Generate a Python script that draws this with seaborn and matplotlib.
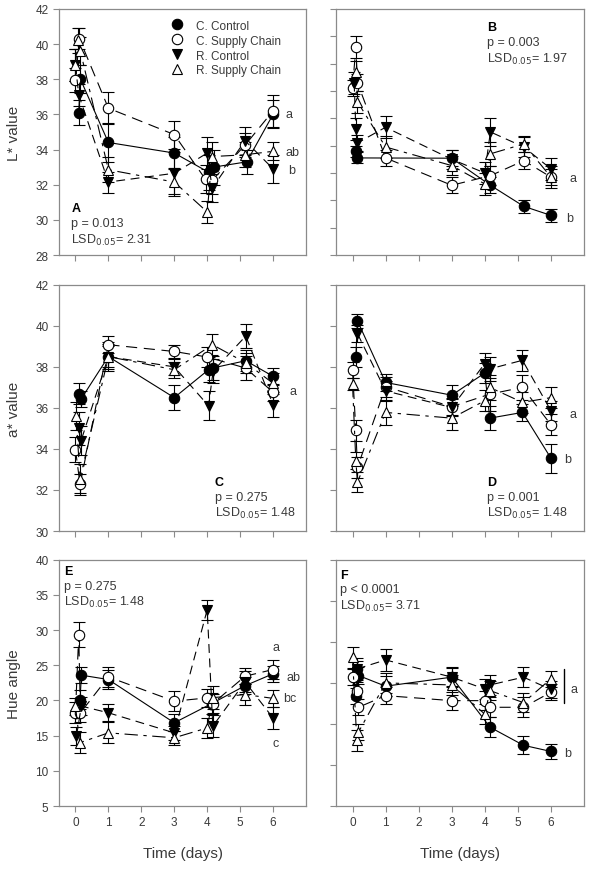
import matplotlib
matplotlib.use('Agg')
from matplotlib import pyplot as plt
from matplotlib.lines import Line2D
import pandas as pd
import seaborn as sns

series_names = ['C. Control', 'C. Supply Chain', 'R. Control', 'R. Supply Chain']
day_ticks = [0, 1, 2, 3, 4, 5, 6]

# panel A - L* (first muscle)
a_cc_t = [0.1, 0.15, 1, 3, 4.05, 4.2, 5.2, 6]
a_cc_y = [36.1, 38.0, 34.4, 33.8, 32.7, 33.0, 33.3, 36.0]
a_cc_e = [0.7, 0.8, 1.1, 0.9, 1.0, 1.0, 0.7, 0.8]
a_csc_t = [0, 0.12, 1, 3, 3.95, 4.15, 5.15, 6]
a_csc_y = [37.95, 40.3, 36.35, 34.85, 32.3, 32.25, 34.25, 36.2]
a_csc_e = [0.7, 0.6, 0.9, 0.8, 0.8, 0.8, 0.7, 0.9]
a_rc_t = [0, 0.1, 1, 3, 4.0, 4.15, 5.15, 6]
a_rc_y = [38.8, 37.1, 32.15, 32.65, 33.8, 31.8, 34.5, 32.9]
a_rc_e = [0.9, 0.6, 0.6, 1.2, 0.9, 0.8, 0.8, 0.8]
a_rsc_t = [0, 0.08, 0.15, 1, 3, 4.0, 4.15, 5.15, 6]
a_rsc_y = [38.8, 40.2, 39.6, 32.85, 32.15, 30.45, 33.6, 33.7, 33.9]
a_rsc_e = [0.9, 0.7, 0.8, 0.7, 0.8, 0.6, 0.8, 0.7, 0.5]

# panel B - L* (second muscle)
b_cc_t = [0.1, 0.15, 3, 4.17, 5.18, 6]
b_cc_y = [33.8, 33.55, 33.54, 32.55, 31.78, 31.45]
b_cc_e = [0.2, 0.2, 0.3, 0.3, 0.25, 0.25]
b_csc_t = [0, 0.1, 0.15, 1, 3, 4.17, 5.18, 6]
b_csc_y = [36.1, 37.6, 36.3, 33.55, 32.55, 32.9, 33.45, 32.85]
b_csc_e = [0.3, 0.4, 0.3, 0.3, 0.3, 0.35, 0.3, 0.3]
b_rc_t = [0.05, 0.1, 0.15, 1, 3, 4.0, 4.17, 5.18, 6]
b_rc_y = [36.3, 34.6, 34.1, 34.67, 33.5, 33.0, 34.5, 33.95, 33.15]
b_rc_e = [0.4, 0.4, 0.3, 0.4, 0.35, 0.4, 0.5, 0.35, 0.4]
b_rsc_t = [0.1, 0.15, 1, 3, 4.0, 4.17, 5.18, 6]
b_rsc_y = [36.7, 35.6, 33.95, 33.27, 32.6, 33.7, 34.06, 32.85]
b_rsc_e = [0.4, 0.4, 0.4, 0.35, 0.4, 0.45, 0.3, 0.4]

# panel C - a*
c_cc_t = [0.12, 0.17, 1, 3, 4.04, 4.18, 5.17, 6]
c_cc_y = [36.7, 36.43, 38.5, 36.5, 37.86, 37.95, 38.3, 37.54]
c_cc_e = [0.5, 0.4, 0.5, 0.6, 0.6, 0.6, 0.5, 0.4]
c_csc_t = [0, 0.14, 1, 3, 4.0, 5.17, 6]
c_csc_y = [33.97, 32.27, 39.08, 38.75, 38.48, 37.94, 36.76]
c_csc_e = [0.6, 0.5, 0.4, 0.3, 0.5, 0.6, 0.4]
c_rc_t = [0.1, 0.17, 1, 3, 4.04, 4.18, 5.17, 6]
c_rc_y = [35.0, 34.4, 38.5, 38.0, 36.1, 37.8, 39.5, 36.16]
c_rc_e = [0.8, 0.7, 0.6, 0.4, 0.7, 0.6, 0.6, 0.6]
c_rsc_t = [0.02, 0.14, 1, 3, 4.16, 5.17, 6]
c_rsc_y = [35.6, 32.55, 38.5, 37.86, 39.08, 38.2, 37.2]
c_rsc_e = [0.7, 0.7, 0.7, 0.4, 0.5, 0.5, 0.5]

# panel D - a*
d_cc_t = [0.1, 0.15, 1, 3, 4.0, 4.15, 5.14, 6]
d_cc_y = [38.49, 40.24, 37.24, 36.62, 37.7, 35.5, 35.78, 33.55]
d_cc_e = [0.5, 0.35, 0.4, 0.5, 0.5, 0.6, 0.4, 0.7]
d_csc_t = [0, 0.1, 0.15, 1, 3, 4.15, 5.14, 6]
d_csc_y = [37.84, 34.9, 33.1, 37.03, 36.06, 36.67, 37.0, 35.18]
d_csc_e = [0.4, 0.5, 0.5, 0.5, 0.4, 0.8, 0.6, 0.5]
d_rc_t = [0.15, 1, 3, 4.0, 4.15, 5.14, 6]
d_rc_y = [39.62, 36.83, 36.02, 38.16, 37.9, 38.32, 35.86]
d_rc_e = [0.4, 0.5, 0.4, 0.5, 0.6, 0.5, 0.5]
d_rsc_t = [0, 0.1, 0.15, 1, 3, 4.0, 4.15, 5.14, 6]
d_rsc_y = [37.16, 33.43, 32.38, 35.78, 35.5, 36.35, 37.0, 36.27, 36.5]
d_rsc_e = [0.3, 0.4, 0.5, 0.6, 0.6, 0.5, 0.6, 0.5, 0.5]

# panel E - hue angle
e_cc_t = [0.14, 0.18, 1, 3, 4.14, 5.15, 6]
e_cc_y = [20.14, 23.6, 22.98, 16.83, 19.57, 22.1, 23.8]
e_cc_e = [1.3, 1.1, 1.3, 1.2, 1.5, 1.2, 1.1]
e_csc_t = [0, 0.1, 0.15, 1, 3, 4.0, 4.17, 5.15, 6]
e_csc_y = [18.25, 29.36, 18.25, 23.35, 19.9, 20.37, 19.57, 23.45, 24.4]
e_csc_e = [1.5, 1.8, 1.3, 1.4, 1.4, 1.3, 1.4, 1.1, 1.3]
e_rc_t = [0.03, 0.18, 1, 3, 4.0, 4.17, 5.15, 6]
e_rc_y = [14.93, 19.2, 18.25, 15.4, 32.9, 16.35, 22.65, 17.5]
e_rc_e = [1.3, 1.3, 1.2, 1.0, 1.4, 1.6, 1.5, 1.6]
e_rsc_t = [0, 0.13, 1, 3, 4.0, 4.17, 5.15, 6]
e_rsc_y = [19.2, 14.0, 15.4, 14.7, 16.1, 20.4, 20.85, 20.3]
e_rsc_e = [1.2, 1.5, 1.5, 1.0, 1.4, 1.6, 1.5, 1.2]

# panel F - hue angle
f_cc_t = [0.1, 0.13, 0.18, 1, 3, 4.16, 5.17, 6]
f_cc_y = [18.37, 21.7, 20.9, 19.6, 20.7, 14.6, 12.4, 11.65]
f_cc_e = [1.0, 1.0, 1.0, 1.2, 1.2, 1.2, 1.1, 0.9]
f_csc_t = [0, 0.13, 0.18, 1, 3, 4.0, 4.16, 5.17, 6]
f_csc_y = [20.7, 19.06, 17.03, 18.45, 17.84, 17.84, 17.03, 17.03, 18.86]
f_csc_e = [1.0, 1.0, 1.0, 1.0, 1.1, 1.2, 1.2, 1.2, 1.0]
f_rc_t = [0.13, 1, 3, 4.0, 4.16, 5.17, 6]
f_rc_y = [21.7, 22.8, 20.7, 19.26, 19.75, 20.7, 19.2]
f_rc_e = [1.3, 1.3, 1.1, 1.2, 1.2, 1.2, 1.0]
f_rsc_t = [0, 0.13, 0.18, 1, 3, 4.0, 4.16, 5.17, 6]
f_rsc_y = [23.1, 13.0, 14.0, 20.0, 19.75, 16.2, 19.06, 17.6, 20.5]
f_rsc_e = [1.3, 1.3, 1.0, 1.2, 1.2, 1.2, 1.2, 1.2, 1.0]

# panel texts
panel_letters = ['A', 'B', 'C', 'D', 'E', 'F']
p_texts = ['p = 0.013', 'p = 0.003', 'p = 0.275', 'p = 0.001', 'p = 0.275', 'p < 0.0001']
lsd_values = ['2.31', '1.97', '1.48', '1.48', '1.48', '3.71']

sns.set_style('ticks')
plt.rcParams['font.family'] = ['Liberation Sans', 'DejaVu Sans']
txt_col = '#3a3a3a'
frame_col = '#8a8a8a'

# marker / line style per series
marker_of = {'C. Control': 'o', 'C. Supply Chain': 'o', 'R. Control': 'v', 'R. Supply Chain': '^'}
face_of = {'C. Control': 'black', 'C. Supply Chain': 'white', 'R. Control': 'black', 'R. Supply Chain': 'white'}
ls_of = {'C. Control': '-', 'C. Supply Chain': (0, (10, 6)), 'R. Control': (0, (8, 5)),
         'R. Supply Chain': (0, (12, 5, 3, 5))}


def make_df(prefix):
    rows = []
    g = globals()
    for name, key in zip(series_names, ['cc', 'csc', 'rc', 'rsc']):
        for t, y, e in zip(g[prefix + '_' + key + '_t'], g[prefix + '_' + key + '_y'],
                           g[prefix + '_' + key + '_e']):
            rows.append({'Time': t, 'Value': y, 'SE': e, 'Series': name})
    return pd.DataFrame(rows)


fig = plt.figure(figsize=(5.91, 8.70), dpi=100)
col_x = [0.0998, 0.5685]
col_w = [0.418, 0.4196]
row_y = [0.7057, 0.3885, 0.0724]
row_h = 0.283

# y-axis setup per panel
ylims = [(28, 42), (30, 39), (30, 42), (30, 42), (5, 40), (5, 35)]
ysteps = [2, 1, 2, 2, 5, 5]
ylabels = ['L* value', None, 'a* value', None, 'Hue angle', None]
text_pos = [(0.05, 0.19, 'left'), (0.61, 0.925, 'left'), (0.63, 0.20, 'left'),
            (0.61, 0.20, 'left'), (0.02, 0.955, 'left'), (0.015, 0.94, 'left')]

# significance letters (x in days, y in data units)
sig_labels = [
    [(6.38, 36.0, 'a'), (6.38, 33.85, 'ab'), (6.45, 32.85, 'b')],
    [(6.55, 32.8, 'a'), (6.45, 31.35, 'b')],
    [(6.5, 36.8, 'a')],
    [(6.55, 35.7, 'a'), (6.4, 33.5, 'b')],
    [(5.98, 27.6, 'a'), (6.4, 23.4, 'ab'), (6.3, 20.4, 'bc'), (5.98, 14.0, 'c')],
    [(6.6, 19.2, 'a'), (6.4, 11.5, 'b')],
]

for i, prefix in enumerate(['a', 'b', 'c', 'd', 'e', 'f']):
    r, c = divmod(i, 2)
    ax = fig.add_axes([col_x[c], row_y[r], col_w[c], row_h])
    df = make_df(prefix)
    for name in series_names:
        sub = df[df['Series'] == name]
        ax.errorbar(sub['Time'], sub['Value'], yerr=sub['SE'], fmt='none', ecolor='black',
                    elinewidth=0.8, capsize=4.5, capthick=0.8, zorder=2)
        sns.lineplot(data=sub, x='Time', y='Value', ax=ax, estimator=None, errorbar=None,
                     color='black', linewidth=0.8, linestyle=ls_of[name],
                     marker=marker_of[name], markersize=7.5, markerfacecolor=face_of[name],
                     markeredgecolor='black', markeredgewidth=0.8, zorder=3)
    ax.set_xlim(-0.5, 7)
    ax.set_ylim(*ylims[i])
    lo, hi = ylims[i]
    ax.set_yticks(list(range(lo, hi + 1, ysteps[i])))
    ax.set_xticks(day_ticks)
    ax.set_xlabel('')
    ax.set_ylabel('')
    for sp in ax.spines.values():
        sp.set_visible(True)
        sp.set_color(frame_col)
        sp.set_linewidth(0.9)
    ax.tick_params(direction='out', length=4, width=0.8, color=frame_col,
                   labelsize=8.5, labelcolor=txt_col)
    if c == 1:
        ax.set_yticklabels([])
    if r < 2:
        ax.set_xticklabels([])
    else:
        ax.set_xlabel('Time (days)', fontsize=11, color=txt_col, labelpad=13)
    if ylabels[i]:
        ax.set_ylabel(ylabels[i], fontsize=11, color=txt_col, labelpad=10)

    tx, ty, ha = text_pos[i]
    ax.text(tx, ty, panel_letters[i], transform=ax.transAxes, fontsize=9, fontweight='bold',
            color='black', ha=ha, va='center')
    ax.text(tx, ty - 0.06, p_texts[i], transform=ax.transAxes, fontsize=9, color=txt_col,
            ha=ha, va='center')
    ax.text(tx, ty - 0.125, 'LSD$_{0.05}$= ' + lsd_values[i], transform=ax.transAxes,
            fontsize=9, color=txt_col, ha=ha, va='center')

    for sx, sy, s in sig_labels[i]:
        ax.text(sx, sy, s, fontsize=9, color=txt_col, ha='left', va='center')
    if prefix == 'f':
        ax.plot([6.4, 6.4], [17.6, 21.7], color='black', linewidth=1.0)

    if i == 0:
        handles = [Line2D([], [], linestyle='none', marker=marker_of[n], markersize=7.5,
                          markerfacecolor=face_of[n], markeredgecolor='black',
                          markeredgewidth=0.8) for n in series_names]
        leg = ax.legend(handles, series_names, loc='upper left', bbox_to_anchor=(0.40, 0.985),
                        frameon=False, fontsize=8.5, handletextpad=0.6, labelspacing=0.25,
                        borderaxespad=0.2)
        for t in leg.get_texts():
            t.set_color(txt_col)
    elif ax.get_legend() is not None:
        ax.get_legend().remove()

fig.savefig('out.png', dpi=100)
